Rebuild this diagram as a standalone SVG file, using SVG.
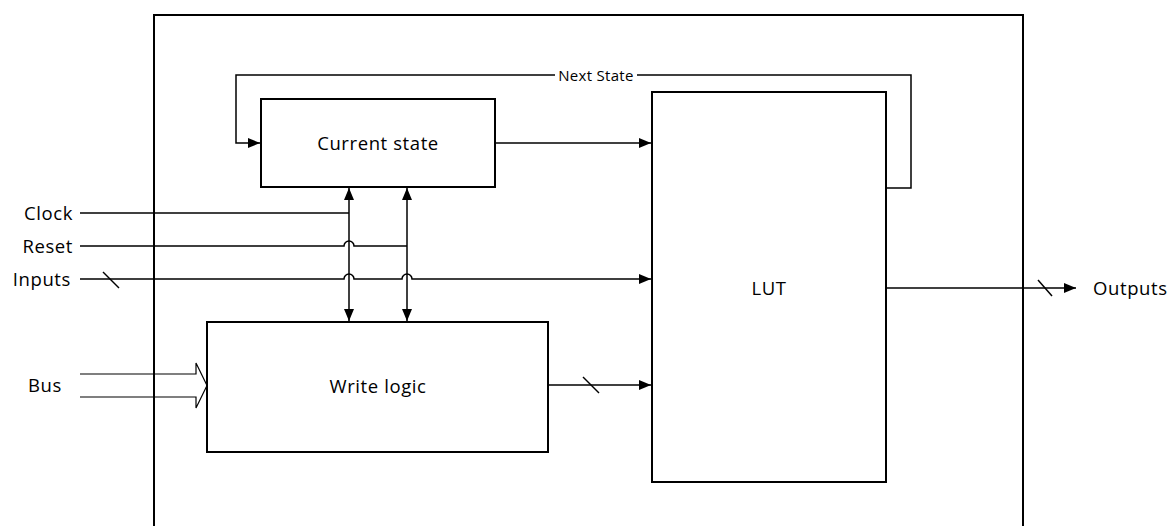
<svg xmlns="http://www.w3.org/2000/svg" width="1173" height="526" viewBox="0 0 1173 526">
  <style>
    .box { fill: #ffffff; stroke: #000000; stroke-width: 2; }
    .wire { fill: none; stroke: #000000; stroke-width: 1.5; }
    .lbl { font-family: "Open Sans", "Liberation Sans", sans-serif; font-size: 18.5px; letter-spacing: 0.6px; fill: #000000; }
    .small { font-family: "Open Sans", "Liberation Sans", sans-serif; font-size: 15px; letter-spacing: 0.3px; fill: #000000; }
  </style>
  <defs>
    <marker id="arrow" viewBox="0 0 12 10" refX="12" refY="5" markerWidth="12" markerHeight="10" markerUnits="userSpaceOnUse" orient="auto-start-reverse">
      <path d="M0,0 L12,5 L0,10 z" fill="#000000"/>
    </marker>
  </defs>
  <rect width="1173" height="526" fill="#ffffff"/>

  <!-- enclosing block -->
  <g id="frame">
    <path d="M154,540 V15 H1023 V540" fill="none" stroke="#000000" stroke-width="2"/>
  </g>

  <g id="current-state">
    <rect class="box" x="261" y="99" width="234" height="88"/>
    <text class="lbl" x="378" y="150" text-anchor="middle">Current state</text>
  </g>

  <g id="write-logic">
    <rect class="box" x="207" y="322" width="341" height="130"/>
    <text class="lbl" x="378" y="393" text-anchor="middle">Write logic</text>
  </g>

  <g id="lut">
    <rect class="box" x="652" y="92" width="234" height="390"/>
    <text class="lbl" x="769" y="295" text-anchor="middle">LUT</text>
  </g>

  <g id="connectors">
    <!-- next state feedback loop -->
    <path class="wire" d="M886,188 H911 V75 H236 V143 H260" marker-end="url(#arrow)"/>
    <rect x="555" y="66" width="82" height="18" fill="#ffffff"/>
    <text class="small" x="596" y="80.5" text-anchor="middle">Next State</text>

    <!-- current state to LUT -->
    <path class="wire" d="M495,143 H651" marker-end="url(#arrow)"/>

    <!-- control lines between the blocks -->
    <path class="wire" d="M349,188 V321" marker-start="url(#arrow)" marker-end="url(#arrow)"/>
    <path class="wire" d="M407,188 V321" marker-start="url(#arrow)" marker-end="url(#arrow)"/>

    <!-- Clock -->
    <path class="wire" d="M80,213 H349"/>
    <text class="lbl" x="73" y="219.5" text-anchor="end">Clock</text>

    <!-- Reset, hopping over the clock line -->
    <path class="wire" d="M80,246 H344 A5,5 0 0 1 354,246 H407"/>
    <text class="lbl" x="73" y="252.5" text-anchor="end">Reset</text>

    <!-- Inputs bus, hopping over both control lines -->
    <path class="wire" d="M80,279 H344 A5,5 0 0 1 354,279 H402 A5,5 0 0 1 412,279 H651" marker-end="url(#arrow)"/>
    <path class="wire" d="M103,272 L119,288"/>
    <text class="lbl" x="71" y="285.5" text-anchor="end">Inputs</text>

    <!-- write logic to LUT -->
    <path class="wire" d="M548,385 H651" marker-end="url(#arrow)"/>
    <path class="wire" d="M583,377 L599,393"/>

    <!-- outputs -->
    <path class="wire" d="M886,288 H1076" marker-end="url(#arrow)"/>
    <path class="wire" d="M1038,280 L1052,296"/>
    <text class="lbl" x="1093" y="294.5">Outputs</text>

    <!-- Bus hollow arrow -->
    <path d="M80,374 H196 V363 L207,385.5 L196,408 V397 H80" fill="none" stroke="#000000" stroke-width="1.2"/>
    <text class="lbl" x="28" y="391.5">Bus</text>
  </g>
</svg>
